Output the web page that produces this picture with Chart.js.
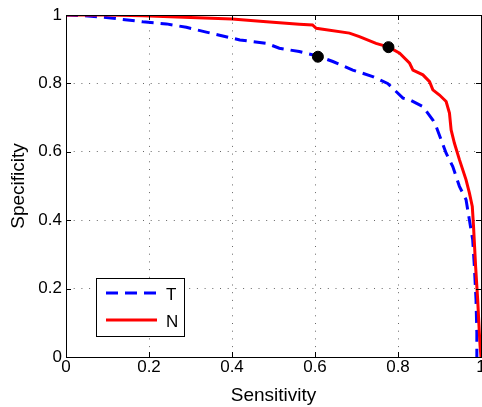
<!DOCTYPE html>
<html>
<head>
<meta charset="utf-8">
<script src="https://cdn.jsdelivr.net/npm/chart.js@4/dist/chart.umd.min.js"></script>
<style>
  html, body { margin: 0; padding: 0; background: #fff; overflow: hidden; }
  #wrap { width: 482px; height: 407px; overflow: hidden; }
  canvas { display: block; }
</style>
</head>
<body>
<div id="wrap"><canvas id="rocChart" width="495" height="407"></canvas></div>
<script>
// tick values
const xTicks = [0, 0.2, 0.4, 0.6, 0.8, 1];
const yTicks = [0, 0.2, 0.4, 0.6, 0.8, 1];

// T curve (dashed blue)
const tSens = [0, 0.04, 0.097, 0.185, 0.242, 0.29, 0.338, 0.37, 0.419, 0.483, 0.514, 0.562, 0.607, 0.643, 0.691, 0.739,
               0.775, 0.812, 0.828, 0.86, 0.884, 0.892, 0.904, 0.916, 0.932, 0.948, 0.964, 0.972, 0.98, 0.984, 0.988, 0.99, 0.99];
const tSpec = [1, 0.998, 0.993, 0.98, 0.974, 0.964, 0.95, 0.941, 0.927, 0.917, 0.903, 0.893, 0.88, 0.864, 0.839, 0.82,
               0.8, 0.757, 0.752, 0.732, 0.693, 0.674, 0.635, 0.596, 0.557, 0.499, 0.46, 0.401, 0.343, 0.265, 0.168, 0.071, 0];

// N curve (solid red)
const nSens = [0, 0.1, 0.185, 0.3, 0.4, 0.483, 0.562, 0.594, 0.603, 0.683, 0.707, 0.747, 0.778, 0.804, 0.828, 0.836,
               0.86, 0.876, 0.884, 0.9, 0.916, 0.924, 0.928, 0.936, 0.948, 0.964, 0.972, 0.979, 0.982, 0.987, 0.992, 0.996, 0.998, 1];
const nSpec = [1, 1, 0.998, 0.993, 0.988, 0.98, 0.973, 0.971, 0.961, 0.947, 0.937, 0.917, 0.906, 0.888, 0.859, 0.839,
               0.825, 0.805, 0.781, 0.766, 0.747, 0.713, 0.664, 0.625, 0.577, 0.518, 0.48, 0.44, 0.382, 0.265, 0.168, 0.071, 0.028, 0];

// operating points
const markSens = [0.607, 0.777];
const markSpec = [0.878, 0.906];

const legendLabels = ['T', 'N'];

const FONT = '"Liberation Sans", Arial, Helvetica, sans-serif';

function toPoints(xs, ys) {
    return xs.map((x, i) => ({ x: x, y: ys[i] }));
}

// frame, inward ticks and legend box (MATLAB look)
const matlabAxes = {
    id: 'matlabAxes',
    afterDatasetsDraw(chart) {
        const { ctx, chartArea: a, scales } = chart;
        ctx.save();
        ctx.strokeStyle = '#000';
        ctx.lineWidth = 1;
        ctx.setLineDash([]);
        ctx.beginPath();
        xTicks.forEach(v => {
            const px = Math.round(scales.x.getPixelForValue(v)) + 0.5;
            ctx.moveTo(px, a.bottom); ctx.lineTo(px, a.bottom - 5);
            ctx.moveTo(px, a.top); ctx.lineTo(px, a.top + 5);
        });
        yTicks.forEach(v => {
            const py = Math.round(scales.y.getPixelForValue(v)) + 0.5;
            ctx.moveTo(a.left, py); ctx.lineTo(a.left + 5, py);
            ctx.moveTo(a.right, py); ctx.lineTo(a.right - 5, py);
        });
        ctx.stroke();
        ctx.strokeRect(Math.round(a.left) + 0.5, Math.round(a.top) + 0.5,
                       Math.round(a.right - a.left), Math.round(a.bottom - a.top));

        // legend
        const x0 = a.left + 30, y0 = a.bottom - 79, w = 88, h = 58;
        ctx.fillStyle = '#fff';
        ctx.fillRect(x0, y0, w, h);
        ctx.strokeRect(Math.round(x0) + 0.5, Math.round(y0) + 0.5, w, h);
        const sets = [chart.data.datasets[0], chart.data.datasets[1]];
        sets.forEach((ds, i) => {
            const ly = y0 + 15 + i * 27;
            ctx.beginPath();
            ctx.strokeStyle = ds.borderColor;
            ctx.lineWidth = ds.borderWidth;
            ctx.setLineDash(ds.borderDash || []);
            ctx.moveTo(x0 + 10, ly);
            ctx.lineTo(x0 + 61, ly);
            ctx.stroke();
            ctx.setLineDash([]);
            ctx.fillStyle = '#000';
            ctx.font = '17px ' + FONT;
            ctx.textBaseline = 'middle';
            ctx.fillText(legendLabels[i], x0 + 70, ly + 2);
        });
        ctx.restore();
    }
};

function gridColor(c) {
    return (c.tick && (c.tick.value === 0 || c.tick.value === 1)) ? 'rgba(0,0,0,0)' : '#666';
}

new Chart(document.getElementById('rocChart'), {
    type: 'line',
    data: {
        datasets: [
            {
                label: 'T',
                data: toPoints(tSens, tSpec),
                borderColor: '#0000ff',
                borderWidth: 3,
                borderDash: [12, 7],
                pointRadius: 0,
                tension: 0,
                order: 2
            },
            {
                label: 'N',
                data: toPoints(nSens, nSpec),
                borderColor: '#ff0000',
                borderWidth: 3,
                pointRadius: 0,
                tension: 0,
                order: 1
            },
            {
                label: 'points',
                data: toPoints(markSens, markSpec),
                showLine: false,
                pointStyle: 'circle',
                pointRadius: 5.5,
                pointBackgroundColor: '#000',
                pointBorderColor: '#000',
                order: 0
            }
        ]
    },
    options: {
        responsive: false,
        animation: false,
        devicePixelRatio: 1,
        layout: { padding: { top: 15, right: 14, bottom: 0, left: 0 } },
        plugins: {
            legend: { display: false },
            tooltip: { enabled: false }
        },
        scales: {
            x: {
                type: 'linear',
                min: 0,
                max: 1,
                afterBuildTicks: s => { s.ticks = xTicks.map(v => ({ value: v })); },
                afterFit: s => { s.height = 50; },
                ticks: {
                    color: '#000',
                    font: { family: FONT, size: 17 },
                    padding: 0,
                    maxRotation: 0,
                    callback: v => String(v)
                },
                grid: { color: gridColor, lineWidth: 1, drawTicks: false },
                border: { display: false, dash: [1, 6.7] },
                title: {
                    display: true,
                    text: 'Sensitivity',
                    color: '#000',
                    font: { family: FONT, size: 19 },
                    padding: { top: 0, bottom: 0 }
                }
            },
            y: {
                type: 'linear',
                min: 0,
                max: 1,
                afterBuildTicks: s => { s.ticks = yTicks.map(v => ({ value: v })); },
                afterFit: s => { s.width = 66; },
                ticks: {
                    color: '#000',
                    font: { family: FONT, size: 17 },
                    padding: 4,
                    callback: v => String(v)
                },
                grid: { color: gridColor, lineWidth: 1, drawTicks: false },
                border: { display: false, dash: [1, 6.7] },
                title: {
                    display: true,
                    text: 'Specificity',
                    color: '#000',
                    font: { family: FONT, size: 19 },
                    padding: { top: 7, bottom: 0 }
                }
            }
        }
    },
    plugins: [matlabAxes]
});
</script>
</body>
</html>
